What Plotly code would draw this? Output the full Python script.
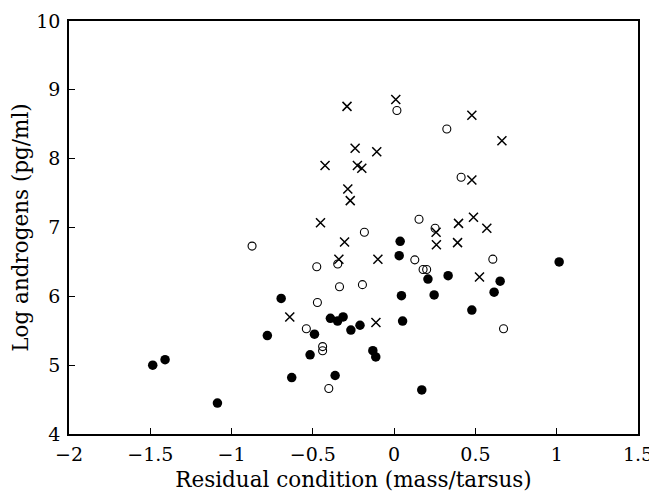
import plotly.graph_objects as go

# Cross markers (x)
cross_x = [-0.29, 0.01, 0.478, 0.663, -0.24, -0.107, -0.425, -0.226, -0.199, -0.285, -0.27, 0.478,
           -0.453, 0.396, 0.488, 0.570, 0.258, 0.26, 0.39, -0.305, -0.34, -0.10, 0.525, -0.642, -0.112]
cross_y = [8.76, 8.86, 8.63, 8.26, 8.15, 8.10, 7.90, 7.90, 7.86, 7.56, 7.39, 7.69,
           7.07, 7.06, 7.15, 6.99, 6.93, 6.75, 6.78, 6.79, 6.54, 6.54, 6.28, 5.70, 5.62]

# Open circles
open_x = [0.017, 0.324, 0.412, 0.153, 0.252, -0.183, -0.874, -0.347, -0.476, 0.127, 0.178, 0.20,
          0.607, -0.336, -0.195, -0.472, -0.54, 0.673, -0.44, -0.44, -0.402]
open_y = [8.70, 8.43, 7.73, 7.12, 6.99, 6.93, 6.73, 6.47, 6.43, 6.53, 6.39, 6.39,
          6.54, 6.14, 6.17, 5.91, 5.53, 5.53, 5.27, 5.21, 4.66]

# Filled circles
filled_x = [0.037, 0.031, 1.015, 0.208, 0.332, 0.652, 0.615, 0.045, 0.246, 0.478, -0.695, -0.392,
            -0.348, -0.314, -0.266, -0.21, 0.052, -0.49, -0.78, -0.517, -0.131, -0.113, -0.363,
            -0.63, -1.485, -1.409, -1.087, 0.17]
filled_y = [6.80, 6.59, 6.50, 6.25, 6.30, 6.22, 6.06, 6.01, 6.02, 5.80, 5.97, 5.68,
            5.64, 5.70, 5.51, 5.58, 5.64, 5.45, 5.43, 5.15, 5.21, 5.12, 4.85,
            4.82, 5.00, 5.08, 4.45, 4.64]

x_ticks = [-2, -1.5, -1, -0.5, 0, 0.5, 1, 1.5]
x_tick_labels = ["\u22122", "\u22121.5", "\u22121", "\u22120.5", "0", "0.5", "1", "1.5"]
y_ticks = [4, 5, 6, 7, 8, 9, 10]

font_family = "DejaVu Serif"

fig = go.Figure()
fig.add_trace(go.Scatter(
    x=cross_x, y=cross_y, mode="markers",
    marker=dict(symbol="x-thin-open", size=9, color="black", line=dict(color="black", width=1.5)),
    showlegend=False, hoverinfo="skip"))
fig.add_trace(go.Scatter(
    x=open_x, y=open_y, mode="markers",
    marker=dict(symbol="circle-open", size=8, color="black", line=dict(color="black", width=1.1)),
    showlegend=False, hoverinfo="skip"))
fig.add_trace(go.Scatter(
    x=filled_x, y=filled_y, mode="markers",
    marker=dict(symbol="circle", size=9.5, color="black", line=dict(width=0)),
    showlegend=False, hoverinfo="skip"))

fig.update_layout(
    width=649, height=487,
    margin=dict(l=61, r=19, t=13, b=61),
    paper_bgcolor="white", plot_bgcolor="white",
    font=dict(family=font_family, size=20, color="black"),
)
fig.update_xaxes(
    range=[-2, 1.5], tickvals=x_ticks, ticktext=x_tick_labels, automargin=False,
    ticks="inside", ticklen=6, tickwidth=1, tickcolor="black",
    showline=True, linecolor="black", linewidth=1.5, mirror=True,
    showgrid=False, zeroline=False, ticklabelstandoff=2,
    title=dict(text="Residual condition (mass/tarsus)", font=dict(size=21.5), standoff=8),
    tickfont=dict(size=19),
)
fig.update_yaxes(
    range=[4, 10], tickvals=y_ticks, automargin=False,
    ticks="inside", ticklen=6, tickwidth=1, tickcolor="black",
    showline=True, linecolor="black", linewidth=1.5, mirror=True,
    showgrid=False, zeroline=False, ticklabelstandoff=3,
    title=dict(text="Log androgens (pg/ml)", font=dict(size=21.5), standoff=6),
    tickfont=dict(size=19),
)

fig.write_html("out.html")
